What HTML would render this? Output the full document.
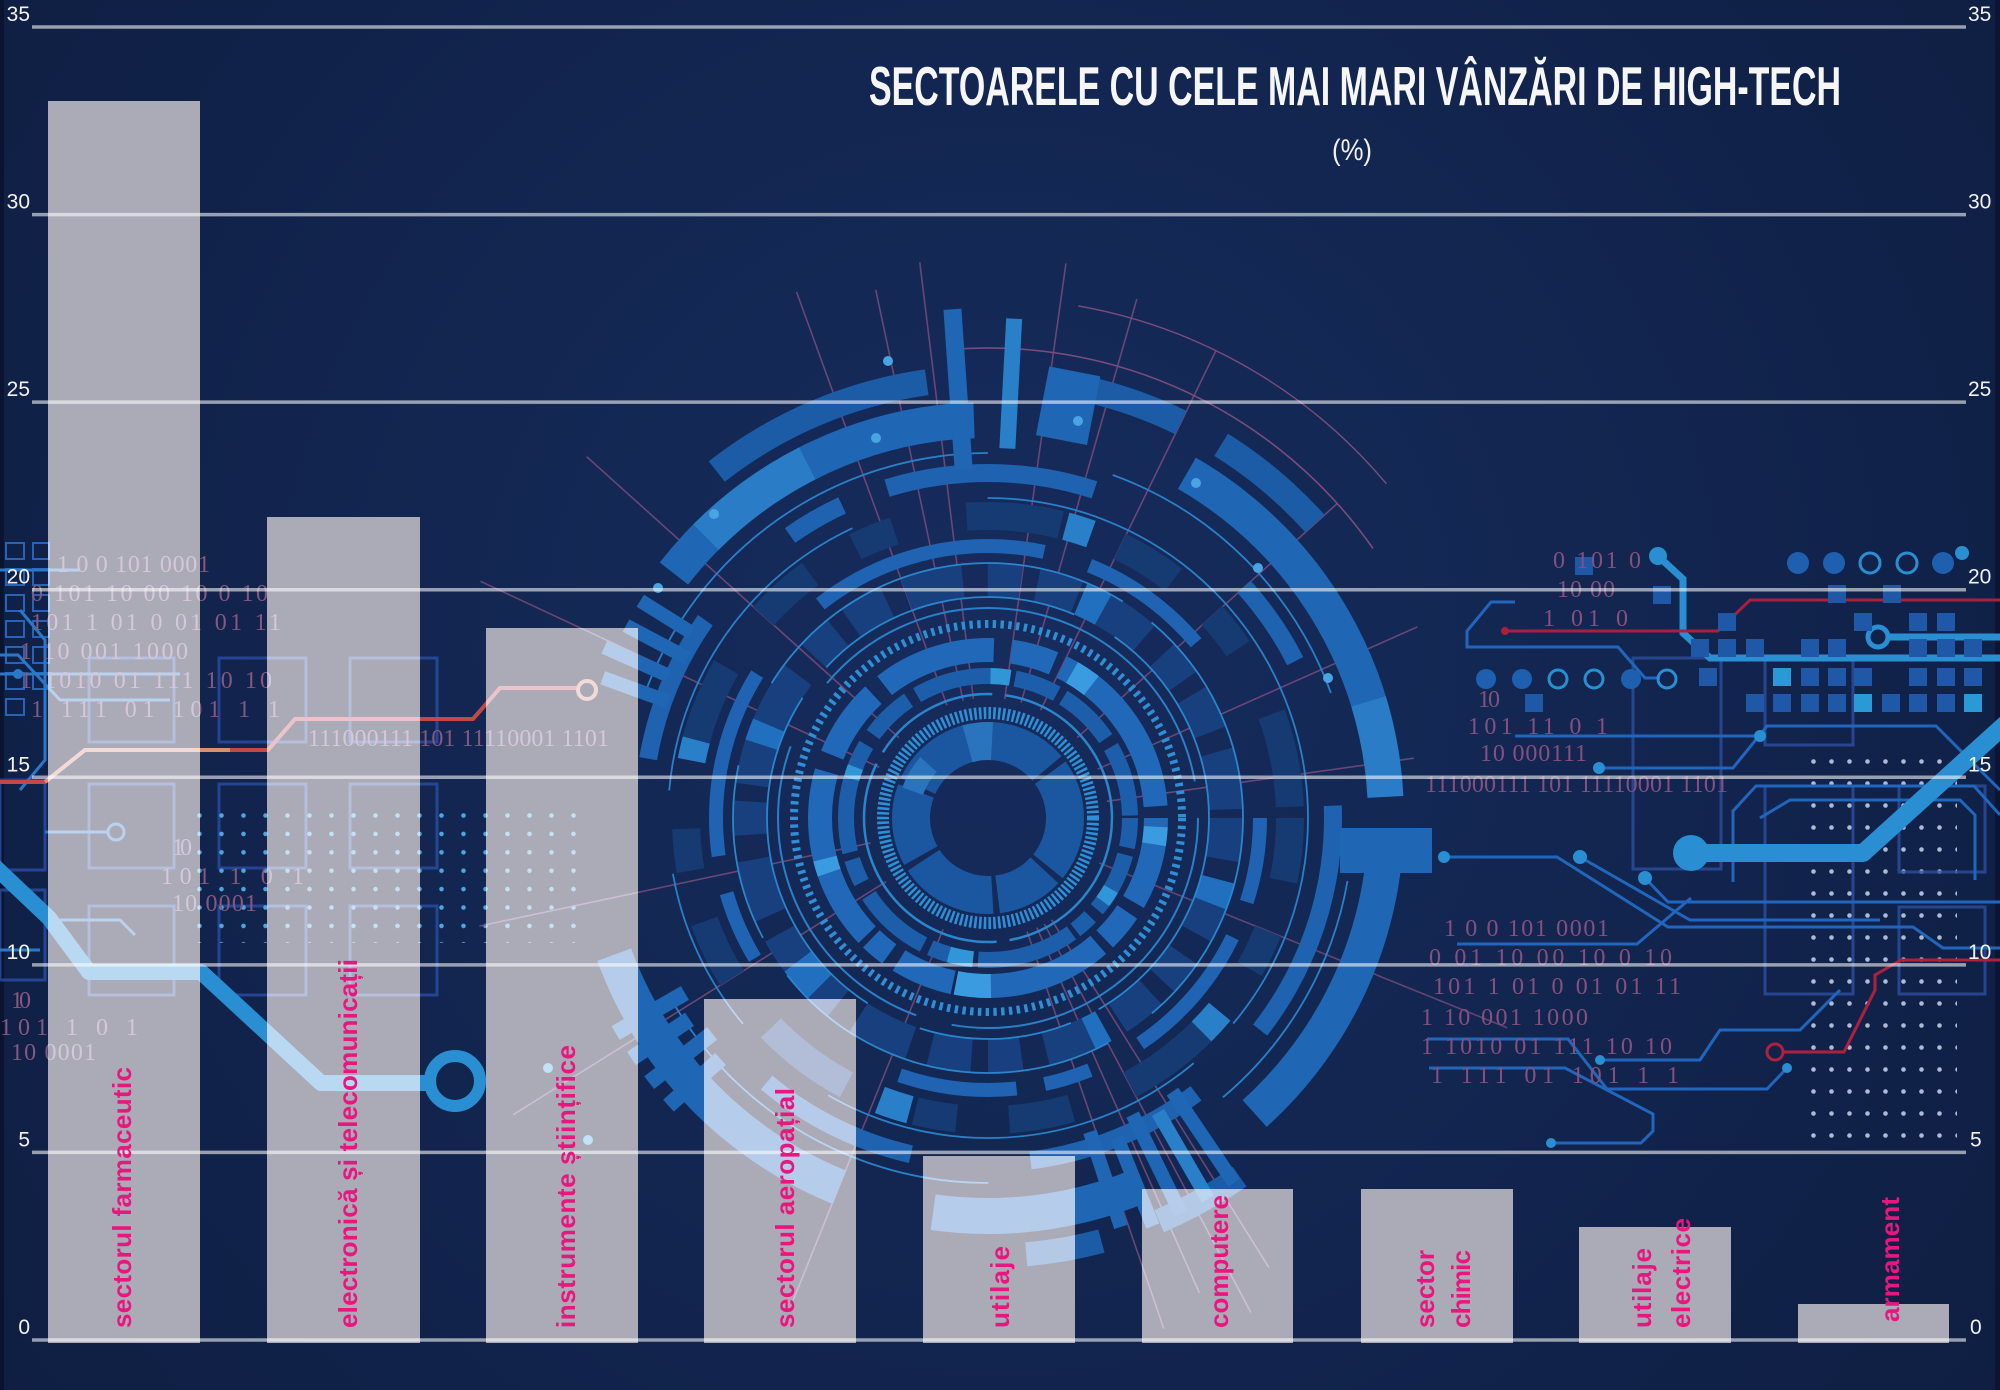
<!DOCTYPE html>
<html><head><meta charset="utf-8">
<style>
html,body{margin:0;padding:0;background:#112248;}
svg{display:block;}
</style></head><body>
<svg width="2000" height="1390" viewBox="0 0 2000 1390" xmlns="http://www.w3.org/2000/svg" xmlns:xlink="http://www.w3.org/1999/xlink">
<defs>
<radialGradient id="bg" cx="1000" cy="650" r="1250" gradientUnits="userSpaceOnUse">
<stop offset="0" stop-color="#162c5d"/><stop offset="0.55" stop-color="#12254f"/><stop offset="1" stop-color="#0f1e42"/>
</radialGradient>
<pattern id="dotsR" x="1811" y="759" width="18" height="22" patternUnits="userSpaceOnUse"><circle cx="2.5" cy="2.5" r="2.3" fill="#aebbd6"/></pattern>
<pattern id="dotsL" x="197" y="813" width="22" height="18.4" patternUnits="userSpaceOnUse"><circle cx="2.5" cy="2.5" r="2.3" fill="#4ea6de"/></pattern>
<clipPath id="barsClip">
<rect x="48" y="101" width="152" height="1242"/>
<rect x="267" y="517" width="153" height="826"/>
<rect x="486" y="628" width="152" height="715"/>
<rect x="704" y="999" width="152" height="344"/>
<rect x="923" y="1156" width="152" height="187"/>
<rect x="1142" y="1189" width="151" height="154"/>
<rect x="1361" y="1189" width="152" height="154"/>
<rect x="1579" y="1227" width="152" height="116"/>
<rect x="1798" y="1304" width="151" height="39"/>
</clipPath>
</defs>
<rect width="2000" height="1390" fill="url(#bg)"/>
<rect x="0" y="0" width="4" height="1390" fill="#0a1430"/>
<rect x="1995" y="0" width="5" height="1390" fill="#0c1634"/>

<g id="deco">
 <!-- left outline squares column -->
 <g fill="none" stroke="#2a62b8" stroke-width="2">
  <rect x="6" y="543" width="18" height="16"/><rect x="6" y="569" width="18" height="16"/><rect x="6" y="595" width="18" height="16"/><rect x="6" y="621" width="18" height="16"/><rect x="6" y="647" width="18" height="16"/><rect x="6" y="673" width="18" height="16"/><rect x="6" y="699" width="18" height="16"/>
  <rect x="33" y="543" width="16" height="16"/><rect x="33" y="569" width="16" height="16"/><rect x="33" y="595" width="16" height="16"/><rect x="33" y="621" width="16" height="16"/><rect x="33" y="647" width="16" height="16"/><rect x="33" y="673" width="16" height="16"/>
 </g>
 <!-- left outline rectangles -->
 <g fill="none" stroke="#2a4ea6" stroke-width="3" opacity="0.8">
  <rect x="89" y="658" width="85" height="84"/><rect x="219" y="658" width="87" height="84"/><rect x="350" y="658" width="87" height="84"/>
  <rect x="89" y="784" width="85" height="84"/><rect x="219" y="784" width="87" height="84"/><rect x="350" y="784" width="87" height="84"/>
  <rect x="89" y="906" width="85" height="89"/><rect x="219" y="906" width="87" height="89"/><rect x="350" y="906" width="87" height="89"/>
  <rect x="0" y="780" width="45" height="90"/><rect x="0" y="890" width="45" height="90"/>
 </g>
 <!-- left thin blue lines -->
 <g fill="none" stroke="#2a78c8" stroke-width="3">
  <polyline points="0,570 80,570"/>
  <polyline points="0,655 18,655 60,700 170,700"/>
  <polyline points="0,674 180,674"/>
  <polyline points="20,610 45,640 45,760 20,790"/>
  <polyline points="45,832 108,832"/>
  <polyline points="60,920 120,920 135,935"/>
  <polyline points="0,950 40,950"/>
 </g>
 <circle cx="116" cy="832" r="8" fill="none" stroke="#2a78c8" stroke-width="3"/>
 <circle cx="18" cy="674" r="5" fill="#2a78c8"/>
 <!-- dot grids -->
 <rect x="197" y="813" width="390" height="130" fill="url(#dotsL)"/>
 <rect x="1811" y="759" width="146" height="390" fill="url(#dotsR)"/>
 <!-- orange/red trace left -->
 <polyline points="0,782 45,782 85,750 268,750 295,719 473,719 500,688 578,688" fill="none" stroke="#c24a46" stroke-width="4"/>
 <polyline points="45,782 85,750 230,750" fill="none" stroke="#d9906e" stroke-width="4"/>
 <circle cx="587" cy="690" r="9" fill="none" stroke="#d9906e" stroke-width="4"/>
 <!-- thick left trace -->
 <polyline points="-10,862 49,918 89,972 201,972 321,1083 432,1083" fill="none" stroke="#2a8ed2" stroke-width="16" stroke-linejoin="round"/>
 <circle cx="455" cy="1081" r="25" fill="none" stroke="#2a8ed2" stroke-width="12"/>
 <!-- left binary text -->
 <g font-family="'Liberation Serif', serif" font-size="24" fill="#84587f">
  <text x="57" y="572" textLength="153">1 0 0 101 0001</text>
  <text x="31" y="601" textLength="237">0 101 10 00   10 0   10</text>
  <text x="31" y="630" textLength="250">101 1   01 0 01   01 11</text>
  <text x="20" y="659" textLength="168">1 10   001 1000</text>
  <text x="20" y="688" textLength="252">1 1010 01 111   10   10</text>
  <text x="31" y="717" textLength="249">1 111   01   101 1   1</text>
  <text x="308" y="746" textLength="301">111000111 101 11110001   1101</text>
  <text x="172" y="855" textLength="20">10</text>
  <text x="161" y="884" textLength="143">101 1   0   1</text>
  <text x="172" y="911" textLength="85">10  0001</text>
  <text x="11" y="1008" textLength="20">10</text>
  <text x="0" y="1035" textLength="138">101 1   0   1</text>
  <text x="11" y="1060" textLength="85">10  0001</text>
 </g>

 <!-- HUD -->
 <g transform="translate(988 818)" fill="none">
  <!-- thin pink radial lines -->
  <g stroke="#7a4c7c" stroke-width="1.6" opacity="0.85">
   <line x1="120" y1="0" x2="560" y2="0" transform="rotate(250)"/>
   <line x1="120" y1="0" x2="540" y2="0" transform="rotate(258)"/>
   <line x1="120" y1="0" x2="560" y2="0" transform="rotate(263)"/>
   <line x1="120" y1="0" x2="560" y2="0" transform="rotate(278)"/>
   <line x1="120" y1="0" x2="540" y2="0" transform="rotate(286)"/>
   <line x1="120" y1="0" x2="520" y2="0" transform="rotate(296)"/>
   <line x1="120" y1="0" x2="470" y2="0" transform="rotate(318)"/>
   <line x1="120" y1="0" x2="470" y2="0" transform="rotate(336)"/>
   <line x1="120" y1="0" x2="430" y2="0" transform="rotate(352)"/>
   <line x1="120" y1="0" x2="560" y2="0" transform="rotate(22)"/>
   <line x1="120" y1="0" x2="530" y2="0" transform="rotate(58)"/>
   <line x1="120" y1="0" x2="560" y2="0" transform="rotate(62)"/>
   <line x1="120" y1="0" x2="520" y2="0" transform="rotate(66)"/>
   <line x1="120" y1="0" x2="540" y2="0" transform="rotate(71)"/>
   <line x1="120" y1="0" x2="520" y2="0" transform="rotate(112)"/>
   <line x1="120" y1="0" x2="560" y2="0" transform="rotate(148)"/>
   <line x1="120" y1="0" x2="520" y2="0" transform="rotate(168)"/>
   <line x1="120" y1="0" x2="560" y2="0" transform="rotate(205)"/>
   <line x1="120" y1="0" x2="540" y2="0" transform="rotate(222)"/>
  </g>
  <circle r="470" stroke="#7a4c7c" stroke-width="1.6" pathLength="360" stroke-dasharray="60 300" transform="rotate(265)"/>
  <circle r="520" stroke="#7a4c7c" stroke-width="1.4" pathLength="360" stroke-dasharray="40 320" transform="rotate(280)"/>
  <!-- rings -->
  <circle r="77" stroke="#1b56a0" stroke-width="38" pathLength="360" stroke-dasharray="55 4 75 4 40 4 60 4 50 4 56 4" transform="rotate(-95)"/>
  <circle r="77" stroke="#2a74bd" stroke-width="38" pathLength="360" stroke-dasharray="18 342" transform="rotate(-105)"/>
  <circle r="80" stroke="#2a74bd" stroke-width="22" pathLength="360" stroke-dasharray="22 338" transform="rotate(200)"/>
  <circle r="105" stroke="#2e8fd4" stroke-width="12" pathLength="360" stroke-dasharray="1.4 1.2"/>
  <circle r="124" stroke="#2a86cc" stroke-width="2.5" pathLength="360" stroke-dasharray="80 6 120 6 60 6 82 0"/>
  <circle r="142" stroke="#1d5eaa" stroke-width="16" pathLength="360" stroke-dasharray="12 3 25 4 8 2 40 5 15 3 30 6 10 3 45 5 20 4 35 6 18 3 24 4 29 4"/>
  <circle r="142" stroke="#3096d8" stroke-width="16" pathLength="360" stroke-dasharray="6 60 10 90 5 70 8 111" transform="rotate(30)"/>
  <circle r="168" stroke="#2168b8" stroke-width="24" pathLength="360" stroke-dasharray="30 4 12 3 45 8 20 4 8 2 60 6 25 5 40 6 15 3 60 4"/>
  <circle r="168" stroke="#3a9be0" stroke-width="24" pathLength="360" stroke-dasharray="8 55 6 80 12 60 5 134" transform="rotate(-60)"/>
  <circle r="194" stroke="#2f8ed4" stroke-width="8" pathLength="360" stroke-dasharray="1 1.3"/>
  <circle r="210" stroke="#2a80c8" stroke-width="2" pathLength="360" stroke-dasharray="100 10 90 20 130 10"/>
  <circle r="238" stroke="#18407f" stroke-width="34" pathLength="360" stroke-dasharray="10 5 14 6 8 4"/>
  <circle r="238" stroke="#2170c0" stroke-width="34" pathLength="360" stroke-dasharray="6 40 4 70 8 55 5 90 6 76" transform="rotate(15)"/>
  <circle r="221" stroke="#2b85cc" stroke-width="1.8" pathLength="360" stroke-dasharray="60 8 40 15 90 10 70 12 55 0"/>
  <circle r="255" stroke="#2b85cc" stroke-width="1.8" pathLength="360" stroke-dasharray="50 12 80 10 40 20 90 8 50 0"/>
  <circle r="272" stroke="#1f63b2" stroke-width="14" pathLength="360" stroke-dasharray="18 8 30 12 10 6 25 40 15 8 40 20 50 10 28 50"/>
  <circle r="302" stroke="#163a72" stroke-width="28" pathLength="360" stroke-dasharray="12 10 8 14 18 12"/>
  <circle r="302" stroke="#2a80c8" stroke-width="28" pathLength="360" stroke-dasharray="5 60 6 80 4 90 5 110" transform="rotate(40)"/>
  <circle r="320" stroke="#2a80c8" stroke-width="1.8" pathLength="360" stroke-dasharray="40 10 70 20 30 15 60 25 90 0"/>
  <circle r="345" stroke="#1e62b0" stroke-width="18" pathLength="360" stroke-dasharray="25 20 10 8 35 30 15 25 40 15 30 20 27 60" transform="rotate(190)"/>
  <circle r="365" stroke="#2a80c8" stroke-width="1.8" pathLength="360" stroke-dasharray="70 20 50 30 40 40 60 50" transform="rotate(200)"/>
  <!-- outer bands -->
  <circle r="398" stroke="#1f66b5" stroke-width="36" pathLength="360" stroke-dasharray="50 32 52 10 46 20 30 14 48 58" transform="rotate(218)"/>
  <circle r="398" stroke="#2a7cc6" stroke-width="36" pathLength="360" stroke-dasharray="18 100 14 228" transform="rotate(225)"/>
  <circle r="440" stroke="#1c5ca6" stroke-width="26" pathLength="360" stroke-dasharray="30 21 13 6 16 274" transform="rotate(232)"/>
  <circle r="438" stroke="#1c5ca6" stroke-width="24" pathLength="360" stroke-dasharray="12 8 10 330" transform="rotate(55)"/>
  <!-- radial bars -->
  <g fill="#1f66b5" stroke="none">
   <rect x="350" y="-9" width="160" height="18" transform="rotate(266)"/>
   <rect x="370" y="-8" width="130" height="16" transform="rotate(273)" fill="#2a80c8"/>
   <rect x="385" y="-26" width="70" height="52" transform="rotate(281)"/>
   <rect x="330" y="-7" width="110" height="14" transform="rotate(56)"/>
   <rect x="340" y="-7" width="100" height="14" transform="rotate(60)" fill="#2a80c8"/>
   <rect x="330" y="-7" width="110" height="14" transform="rotate(64)"/>
   <rect x="345" y="-7" width="95" height="14" transform="rotate(68)"/>
   <rect x="330" y="-7" width="100" height="14" transform="rotate(72)"/>
   <rect x="360" y="-8" width="70" height="16" transform="rotate(138)"/>
   <rect x="350" y="-8" width="80" height="16" transform="rotate(142)"/>
   <rect x="360" y="-8" width="70" height="16" transform="rotate(146)"/>
   <rect x="350" y="-8" width="80" height="16" transform="rotate(150)"/>
   <rect x="340" y="-7" width="70" height="14" transform="rotate(200)"/>
   <rect x="350" y="-7" width="70" height="14" transform="rotate(204)"/>
   <rect x="340" y="-7" width="70" height="14" transform="rotate(208)"/>
   <rect x="350" y="-7" width="60" height="14" transform="rotate(212)"/>
  </g>
  <g fill="#4aa4e4">
   <circle cx="-274" cy="-304" r="5"/><circle cx="-330" cy="-230" r="5"/><circle cx="-100" cy="-457" r="5"/>
   <circle cx="90" cy="-397" r="5"/><circle cx="270" cy="-250" r="5"/><circle cx="340" cy="-140" r="5"/>
   <circle cx="208" cy="-335" r="5"/><circle cx="-440" cy="250" r="5"/><circle cx="-400" cy="322" r="5"/>
   <circle cx="-112" cy="-380" r="5"/>
  </g>
 </g>
 <rect x="1340" y="828" width="92" height="45" fill="#1f66b5"/>

 <!-- right side: outline rectangles -->
 <g fill="none" stroke="#2d4fa0" stroke-width="3" opacity="0.8">
  <rect x="1633" y="658" width="88" height="211"/>
  <rect x="1765" y="658" width="88" height="87"/>
  <rect x="1765" y="786" width="88" height="208"/>
  <rect x="1899" y="786" width="86" height="86"/>
  <rect x="1899" y="907" width="86" height="87"/>
 </g>
 <!-- right thin circuit lines -->
 <g fill="none" stroke="#2166bc" stroke-width="3">
  <polyline points="1515,602 1491,602 1467,631 1467,647 1618,647 1645,678 1660,678"/>
  <polyline points="1515,736 1760,736"/>
  <polyline points="1599,768 1733,768 1767,726 1936,726 2000,790"/>
  <polyline points="1733,882 1733,811 1756,786 1974,786 2000,815"/>
  <polyline points="1444,857 1557,857 1668,927 1913,927 1943,948 2000,948"/>
  <polyline points="1580,857 1690,920 1880,920"/>
  <polyline points="1645,878 1668,902 2000,902"/>
  <polyline points="1457,944 1637,944 1691,898"/>
  <polyline points="1427,1039 1568,1039 1607,1089 1767,1089 1787,1068"/>
  <polyline points="1429,1068 1565,1068 1653,1114 1653,1131 1641,1143 1551,1143"/>
  <polyline points="1600,1060 1700,1060 1720,1030 1800,1030 1840,990"/>
  <polyline points="1760,818 1790,800 1960,800 1975,815 1975,880"/>
 </g>
 <g fill="#2a8ed2">
  <circle cx="1551" cy="1143" r="5"/><circle cx="1787" cy="1068" r="5"/><circle cx="1760" cy="736" r="6"/><circle cx="1599" cy="768" r="6"/>
  <circle cx="1580" cy="857" r="7"/><circle cx="1645" cy="878" r="7"/><circle cx="1444" cy="857" r="6"/><circle cx="1600" cy="1060" r="5"/>
 </g>
 <!-- thick cyan traces right -->
 <polyline points="1691,853 1863,853 2010,720" fill="none" stroke="#2a8fd2" stroke-width="18" stroke-linejoin="round"/>
 <circle cx="1691" cy="853" r="18" fill="#2a8fd2"/>
 <polyline points="1658,556 1683,579 1683,633 1710,658 2000,658" fill="none" stroke="#2a8fd2" stroke-width="7"/>
 <circle cx="1658" cy="556" r="9" fill="#2a8fd2"/>
 <circle cx="1878" cy="637" r="10" fill="none" stroke="#2a8fd2" stroke-width="5"/>
 <line x1="1888" y1="637" x2="2000" y2="637" stroke="#2a8fd2" stroke-width="7"/>
 <!-- red traces right -->
 <polyline points="1505,631 1718,631 1750,600 2000,600" fill="none" stroke="#a8203e" stroke-width="3"/>
 <circle cx="1505" cy="631" r="4" fill="#a8203e"/>
 <polyline points="1783,1052 1844,1052 1875,990 1875,975 1901,960 2000,960" fill="none" stroke="#b0203e" stroke-width="3"/>
 <circle cx="1775" cy="1052" r="8" fill="none" stroke="#b0203e" stroke-width="3"/>
 <!-- circles rows -->
 <g>
  <circle cx="1798" cy="563" r="11" fill="#1f5fb0"/><circle cx="1834" cy="563" r="11" fill="#1f5fb0"/>
  <circle cx="1870" cy="563" r="10" fill="none" stroke="#2a8fd2" stroke-width="3"/><circle cx="1907" cy="563" r="10" fill="none" stroke="#2a8fd2" stroke-width="3"/>
  <circle cx="1943" cy="563" r="11" fill="#1f5fb0"/><circle cx="1962" cy="553" r="7" fill="#2a8fd2"/>
  <circle cx="1486" cy="679" r="10" fill="#1f5fb0"/><circle cx="1522" cy="679" r="10" fill="#1f5fb0"/>
  <circle cx="1558" cy="679" r="9" fill="none" stroke="#2a8fd2" stroke-width="3"/><circle cx="1594" cy="679" r="9" fill="none" stroke="#2a8fd2" stroke-width="3"/>
  <circle cx="1631" cy="679" r="10" fill="#1f5fb0"/><circle cx="1667" cy="679" r="9" fill="none" stroke="#2a8fd2" stroke-width="3"/>
 </g>
 <!-- squares grid -->
 <g fill="#2058a8">
  <rect x="1828" y="585" width="18" height="18"/><rect x="1883" y="585" width="18" height="18"/>
  <rect x="1718" y="613" width="18" height="18"/><rect x="1854" y="613" width="18" height="18"/><rect x="1909" y="613" width="18" height="18"/><rect x="1937" y="613" width="18" height="18"/>
  <rect x="1691" y="639" width="18" height="18"/><rect x="1718" y="639" width="18" height="18"/><rect x="1746" y="639" width="18" height="18"/><rect x="1801" y="639" width="18" height="18"/><rect x="1828" y="639" width="18" height="18"/><rect x="1909" y="639" width="18" height="18"/><rect x="1937" y="639" width="18" height="18"/><rect x="1964" y="639" width="18" height="18"/>
  <rect x="1699" y="668" width="18" height="18"/><rect x="1801" y="668" width="18" height="18"/><rect x="1828" y="668" width="18" height="18"/><rect x="1854" y="668" width="18" height="18"/><rect x="1909" y="668" width="18" height="18"/><rect x="1937" y="668" width="18" height="18"/><rect x="1964" y="668" width="18" height="18"/>
  <rect x="1746" y="694" width="18" height="18"/><rect x="1773" y="694" width="18" height="18"/><rect x="1801" y="694" width="18" height="18"/><rect x="1828" y="694" width="18" height="18"/><rect x="1882" y="694" width="18" height="18"/><rect x="1909" y="694" width="18" height="18"/><rect x="1937" y="694" width="18" height="18"/>
  <rect x="1575" y="557" width="18" height="18"/><rect x="1653" y="586" width="18" height="18"/><rect x="1525" y="694" width="18" height="18"/>
 </g>
 <g fill="#2a9ad6">
  <rect x="1773" y="668" width="18" height="18"/><rect x="1854" y="694" width="18" height="18"/><rect x="1964" y="694" width="18" height="18"/>
 </g>
 <!-- right binary text -->
 <g font-family="'Liberation Serif', serif" font-size="24" fill="#85507e">
  <text x="1553" y="568" textLength="88">0 101 0</text>
  <text x="1557" y="597" textLength="58">10 00</text>
  <text x="1543" y="626" textLength="85">1  01 0</text>
  <text x="1478" y="707" textLength="22">10</text>
  <text x="1468" y="734" textLength="140">101 11  0   1</text>
  <text x="1480" y="761" textLength="107">10   000111</text>
  <text x="1425" y="792" textLength="303">111000111 101 11110001   1101</text>
  <text x="1444" y="936" textLength="165">1 0 0 101 0001</text>
  <text x="1429" y="965" textLength="243">0 01 10 00   10 0   10</text>
  <text x="1433" y="994" textLength="248">101 1   01 0 01   01 11</text>
  <text x="1421" y="1025" textLength="167">1 10   001 1000</text>
  <text x="1421" y="1054" textLength="251">1 1010 01 111   10   10</text>
  <text x="1431" y="1083" textLength="248">1 111   01   101 1   1</text>
 </g>
</g>

<!-- bars -->
<g fill="#abaab7">
<rect x="48" y="101" width="152" height="1242"/>
<rect x="267" y="517" width="153" height="826"/>
<rect x="486" y="628" width="152" height="715"/>
<rect x="704" y="999" width="152" height="344"/>
<rect x="923" y="1156" width="152" height="187"/>
<rect x="1142" y="1189" width="151" height="154"/>
<rect x="1361" y="1189" width="152" height="154"/>
<rect x="1579" y="1227" width="152" height="116"/>
<rect x="1798" y="1304" width="151" height="39"/>
</g>
<use href="#deco" xlink:href="#deco" clip-path="url(#barsClip)" style="mix-blend-mode:screen"/>

<!-- gridlines -->
<g stroke="#ffffff" stroke-opacity="0.57" stroke-width="3.5">
<line x1="32" y1="27" x2="1966" y2="27"/>
<line x1="32" y1="214.6" x2="1966" y2="214.6"/>
<line x1="32" y1="402.1" x2="1966" y2="402.1"/>
<line x1="32" y1="589.7" x2="1966" y2="589.7"/>
<line x1="32" y1="777.3" x2="1966" y2="777.3"/>
<line x1="32" y1="964.9" x2="1966" y2="964.9"/>
<line x1="32" y1="1152.4" x2="1966" y2="1152.4"/>
<line x1="32" y1="1340" x2="1966" y2="1340"/>
</g>

<!-- axis labels -->
<g font-family="'Liberation Sans', sans-serif" font-size="21" fill="#f2f2f2" text-anchor="end">
<text x="30" y="21">35</text><text x="30" y="208.6">30</text><text x="30" y="396.1">25</text><text x="30" y="583.7">20</text>
<text x="30" y="771.3">15</text><text x="30" y="958.9">10</text><text x="30" y="1146.4">5</text><text x="30" y="1334">0</text>
</g>
<g font-family="'Liberation Sans', sans-serif" font-size="21" fill="#f2f2f2">
<text x="1968" y="21">35</text><text x="1968" y="208.6">30</text><text x="1968" y="396.1">25</text><text x="1968" y="583.7">20</text>
<text x="1968" y="771.3">15</text><text x="1968" y="958.9">10</text><text x="1970" y="1146.4">5</text><text x="1970" y="1334">0</text>
</g>

<!-- title -->
<text x="869" y="105" font-family="'Liberation Sans Narrow','Liberation Sans', sans-serif" font-weight="bold" font-size="55" fill="#f6f6f6" textLength="972" lengthAdjust="spacingAndGlyphs">SECTOARELE CU CELE MAI MARI VÂNZĂRI DE HIGH-TECH</text>
<text x="1332" y="160" font-family="'Liberation Sans', sans-serif" font-size="30" fill="#f0f0f0" textLength="40" lengthAdjust="spacingAndGlyphs">(%)</text>

<!-- bar labels -->
<g font-family="'Liberation Sans', sans-serif" font-weight="bold" font-size="26" fill="#e8177f">
<text transform="translate(131 1328) rotate(-90)" textLength="261">sectorul farmaceutic</text>
<text transform="translate(357 1328) rotate(-90)" textLength="369">electronică și telecomunicații</text>
<text transform="translate(575 1328) rotate(-90)" textLength="283">instrumente științifice</text>
<text transform="translate(794 1328) rotate(-90)" textLength="240">sectorul aeropațial</text>
<text transform="translate(1009 1328) rotate(-90)" textLength="82">utilaje</text>
<text transform="translate(1228 1328) rotate(-90)" textLength="133">computere</text>
<text transform="translate(1434 1328) rotate(-90)" textLength="78">sector</text>
<text transform="translate(1470 1328) rotate(-90)" textLength="78">chimic</text>
<text transform="translate(1651 1328) rotate(-90)" textLength="80">utilaje</text>
<text transform="translate(1690 1328) rotate(-90)" textLength="110">electrice</text>
<text transform="translate(1899 1322) rotate(-90)" textLength="125">armament</text>
</g>
</svg>
</body></html>
